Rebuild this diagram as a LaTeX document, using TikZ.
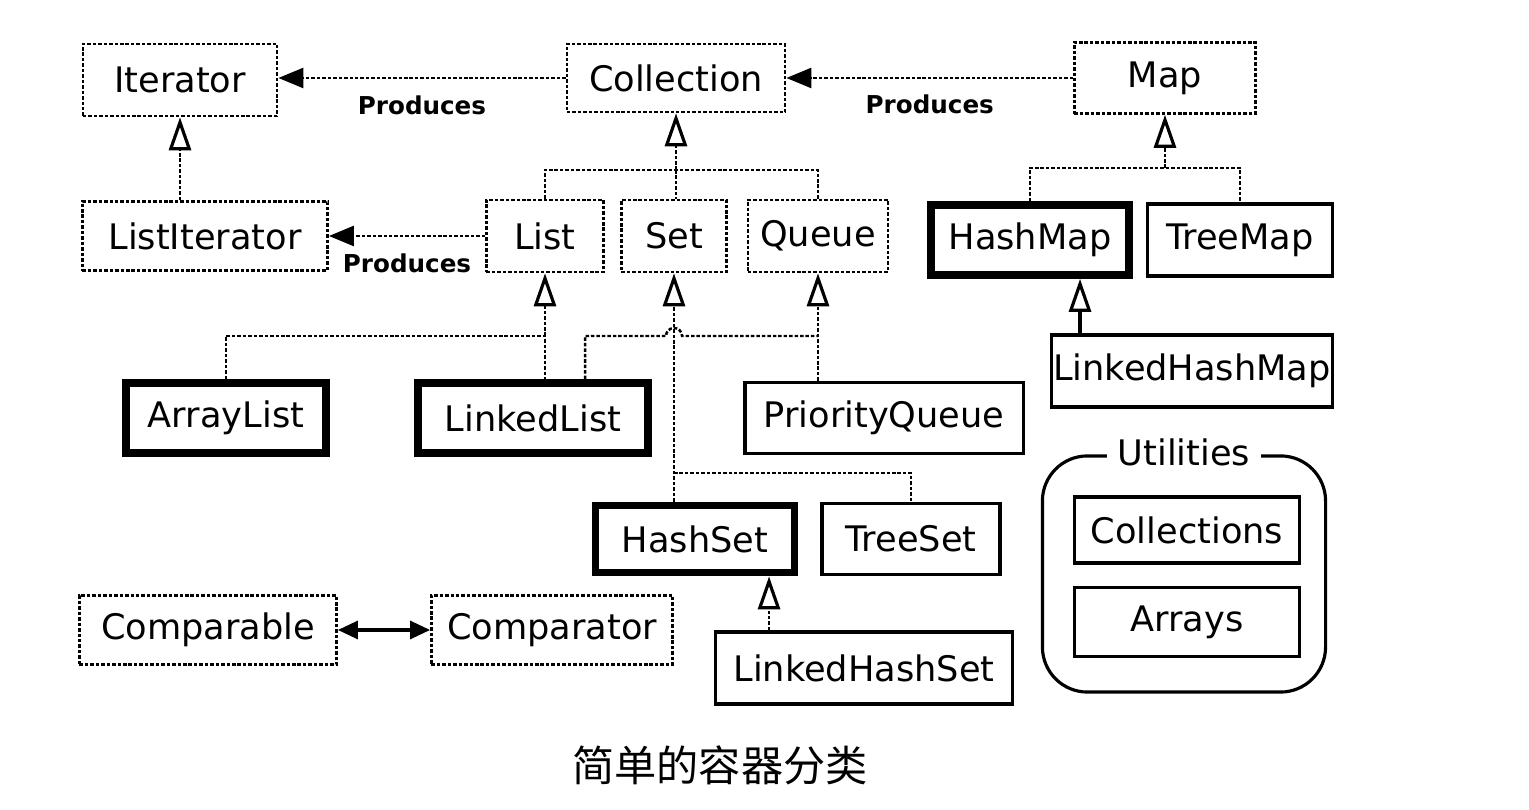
\documentclass[tikz,border=0pt]{standalone}
\usepackage{fontspec}
\setmainfont{DejaVu Sans}
\newfontfamily\cjk{Noto Sans CJK SC}
\usetikzlibrary{arrows.meta}
\tikzset{
  box/.style = {align=center, inner sep=0pt, text centered,
    font=\fontsize{10}{12}\selectfont},
  iface/.style = {box, draw, line width=0.75pt,
    dash pattern=on 1pt off 0.55pt},% interface, pointille
  cls/.style = {box, draw, line width=0.9pt},% classe
  clsmain/.style = {box, draw, line width=2.2pt},% classe courante, trait gras
  dep/.style = {line width=0.7pt, dash pattern=on 1pt off 0.55pt},
  realize/.style = {dep, -{Triangle[open, line width=0.9pt, length=0.33cm, width=0.22cm]}},
  extends/.style = {line width=0.9pt, -{Triangle[open, length=0.33cm, width=0.22cm]}},
  produces/.style = {dep, -{Triangle[length=0.25cm, width=0.2cm]}},
  prodlabel/.style = {font=\bfseries\fontsize{7}{8}\selectfont, inner sep=1pt},
  both/.style = {line width=0.9pt, {Triangle[length=0.2cm, width=0.18cm]}-{Triangle[length=0.2cm, width=0.18cm]}},
}

\begin{document}
\begin{tikzpicture}[x=0.01cm, y=-0.01cm]
\useasboundingbox (0,0) rectangle (1529,810);
% interfaces
\node [iface, minimum width=1.94cm, minimum height=0.72cm] (Iterator) at (180,80) {Iterator};
\node [iface, minimum width=2.18cm, minimum height=0.68cm] (Collection) at (676,78) {Collection};
\node [iface, minimum width=1.81cm, minimum height=0.71cm] (Map) at (1165,78) {Map};
\node [iface, minimum width=2.45cm, minimum height=0.69cm] (ListIterator) at (205,236) {ListIterator};
\node [iface, minimum width=1.17cm, minimum height=0.72cm] (List) at (545,236) {List};
\node [iface, minimum width=1.05cm, minimum height=0.72cm] (Set) at (674,236) {Set};
\node [iface, minimum width=1.40cm, minimum height=0.72cm] (Queue) at (818,236) {Queue};
\node [iface, minimum width=2.57cm, minimum height=0.69cm] (Comparable) at (208,630) {Comparable};
\node [iface, minimum width=2.41cm, minimum height=0.69cm] (Comparator) at (552,630) {Comparator};
% classes
\node [clsmain, minimum width=1.98cm, minimum height=0.70cm] (HashMap) at (1030,240) {HashMap};
\node [cls, minimum width=1.85cm, minimum height=0.72cm] (TreeMap) at (1240,240) {TreeMap};
\node [cls, minimum width=2.81cm, minimum height=0.72cm] (LinkedHashMap) at (1192,371) {LinkedHashMap};
\node [clsmain, minimum width=2.00cm, minimum height=0.70cm] (ArrayList) at (226,418) {ArrayList};
\node [clsmain, minimum width=2.30cm, minimum height=0.70cm] (LinkedList) at (533,418) {LinkedList};
\node [cls, minimum width=2.78cm, minimum height=0.71cm] (PriorityQueue) at (884,418) {PriorityQueue};
\node [clsmain, minimum width=1.99cm, minimum height=0.67cm] (HashSet) at (695,539) {HashSet};
\node [cls, minimum width=1.78cm, minimum height=0.71cm] (TreeSet) at (911,539) {TreeSet};
\node [cls, minimum width=2.97cm, minimum height=0.72cm] (LinkedHashSet) at (864,668) {LinkedHashSet};
% utilities
\node [cls, rounded corners=0.45cm, minimum width=2.83cm, minimum height=2.36cm] (Utilities) at (1184,574) {};
\node [box, fill=white, inner xsep=3pt, font=\fontsize{10}{12}\selectfont] (UtilTitle) at ([yshift=0.02cm]Utilities.north) {Utilities};
\node [cls, minimum width=2.25cm, minimum height=0.66cm] (Collections) at (1187,530) {Collections};
\node [cls, minimum width=2.25cm, minimum height=0.69cm] (Arrays) at (1187,622) {Arrays};
\node [font=\cjk\fontsize{12}{14}\selectfont] (caption) at (720,765) {简单的容器分类};

% produces
\draw [produces] (Collection.west) -- (Collection.west -| Iterator.east)
  node [midway, below=0.13cm, prodlabel] {Produces};
\draw [produces] (Map.west) -- (Map.west -| Collection.east)
  node [midway, below=0.12cm, prodlabel] {Produces};
\draw [produces] (List.west) -- (List.west -| ListIterator.east)
  node [midway, below=0.13cm, prodlabel] {Produces};
\draw [realize] (Iterator.south |- ListIterator.north) -- (Iterator.south);

% Collection
\coordinate (colj) at (676,170);
\draw [realize] (colj) -- (Collection.south);
\draw [dep] (List.north) |- (colj) -| (Queue.north);
\draw [dep] (colj) -- (colj |- Set.north);

% List
\coordinate (listj) at (545,336);
\draw [realize] (listj) -- (List.south);
\draw [dep] (ArrayList.north) |- (listj) -- (listj |- LinkedList.north);
\draw [dep] ([xshift=0.52cm]LinkedList.north) |- ([xshift=-0.08cm]Set.south |- listj)
  arc [start angle=180, end angle=0, radius=0.08cm] -- (Queue.south |- listj);

% Queue
\draw [realize] (PriorityQueue.north -| Queue.south) -- (Queue.south);

% Set
\coordinate (setj) at (674,473);
\draw [realize] (HashSet.north -| Set.south) -- (Set.south);
\draw [dep] (setj) -| (TreeSet.north);
\draw [realize] ([xshift=0.74cm]HashSet.south |- LinkedHashSet.north) -- ([xshift=0.74cm]HashSet.south);

% Map
\coordinate (mapj) at (1165,168);
\draw [realize] (mapj) -- (Map.south);
\draw [dep] (HashMap.north) |- (mapj) -| (TreeMap.north);
\draw [extends] ([xshift=0.5cm]HashMap.south |- LinkedHashMap.north) -- ([xshift=0.5cm]HashMap.south);

% Comparable / Comparator
\draw [both] (Comparable.east) -- (Comparator.west);
\end{tikzpicture}
\end{document}
